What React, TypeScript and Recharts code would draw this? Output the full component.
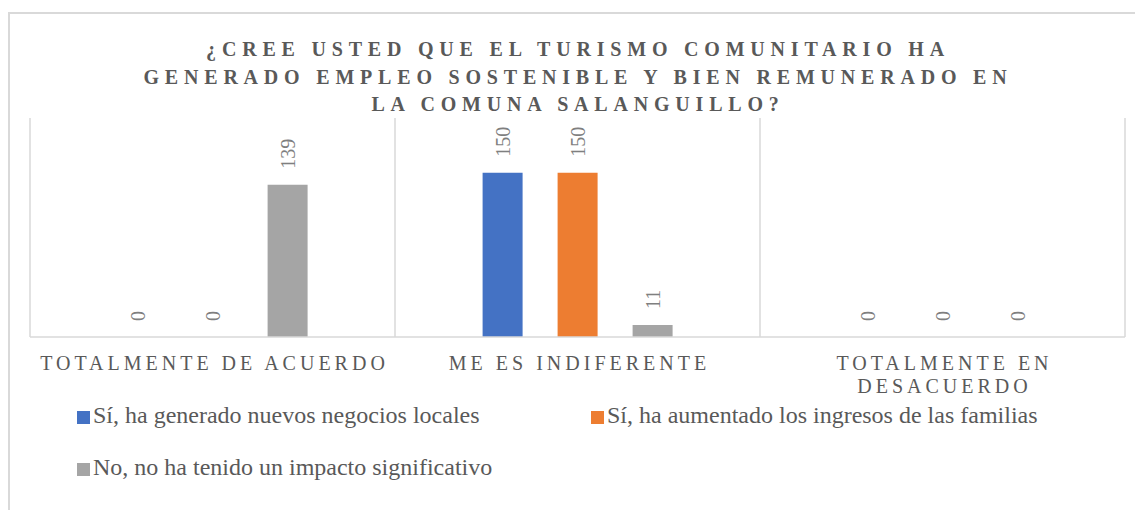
import React from 'react';
import { BarChart, Bar, XAxis, YAxis, CartesianGrid, LabelList } from 'recharts';

const categories = ['TOTALMENTE DE ACUERDO', 'ME ES INDIFERENTE', 'TOTALMENTE EN DESACUERDO'];
const negociosLocales = [0, 150, 0];
const ingresosFamilias = [0, 150, 0];
const sinImpacto = [139, 11, 0];

const titleLines = [
    '¿CREE USTED QUE EL TURISMO COMUNITARIO HA',
    'GENERADO EMPLEO SOSTENIBLE Y BIEN REMUNERADO EN',
    'LA COMUNA SALANGUILLO?',
];

const series = [
    { key: 'negocios', name: 'Sí, ha generado nuevos negocios locales', color: '#4472C4' },
    { key: 'ingresos', name: 'Sí, ha aumentado los ingresos de las familias', color: '#ED7D31' },
    { key: 'sinImpacto', name: 'No, no ha tenido un impacto significativo', color: '#A5A5A5' },
];

const data = categories.map((c, i) => ({
    category: c,
    negocios: negociosLocales[i],
    ingresos: ingresosFamilias[i],
    sinImpacto: sinImpacto[i],
}));

const FONT = '"Liberation Serif", "Times New Roman", serif';
const TICK_SIZE = 20;
const TICK_SPACING = 4;

let ctx: CanvasRenderingContext2D | null = null;
const measure = (s: string) => {
    if (!ctx) ctx = document.createElement('canvas').getContext('2d');
    if (!ctx) return s.length * 12;
    ctx.font = `${TICK_SIZE}px "Liberation Serif"`;
    return ctx.measureText(s).width + s.length * TICK_SPACING;
};

// greedy word wrap, like Excel does for the category labels
const wrap = (label: string, maxWidth: number) => {
    const lines: string[] = [];
    let cur = '';
    label.split(' ').forEach((w) => {
        const next = cur ? cur + ' ' + w : w;
        if (cur && measure(next) > maxWidth) {
            lines.push(cur);
            cur = w;
        } else {
            cur = next;
        }
    });
    if (cur) lines.push(cur);
    return lines;
};

const RotatedLabel = (props: any) => {
    const { x, y, width, value } = props;
    const cx = Number(x) + Number(width) / 2;
    const cy = Number(y) - 16;
    return (
        <text
            x={cx}
            y={cy}
            transform={`rotate(-90 ${cx} ${cy})`}
            textAnchor="start"
            dominantBaseline="central"
            fontFamily={FONT}
            fontSize={20}
            fill="#7F7F7F"
        >
            {value}
        </text>
    );
};

const CategoryTick = (props: any) => {
    const { x, y, payload } = props;
    const lines = wrap(String(payload.value), 355);
    return (
        <text
            x={x + TICK_SPACING / 2}
            y={y + 33}
            textAnchor="middle"
            fontFamily={FONT}
            fontSize={TICK_SIZE}
            fill="#595959"
            letterSpacing={TICK_SPACING}
        >
            {lines.map((l, i) => (
                <tspan key={i} x={x + TICK_SPACING / 2} dy={i === 0 ? 0 : 23}>
                    {l}
                </tspan>
            ))}
        </text>
    );
};

export default function App() {
    return (
        <div style={{ position: 'absolute', left: 0, top: 0, width: 1135, height: 510, overflow: 'hidden', background: '#fff', fontFamily: FONT }}>
            <div style={{ position: 'absolute', left: 8, top: 12, width: 1200, height: 600, borderLeft: '2px solid #D9D9D9', borderTop: '2px solid #D9D9D9' }} />

            <div
                style={{
                    position: 'absolute',
                    left: 0,
                    top: 36,
                    width: 1150,
                    paddingLeft: 6,
                    boxSizing: 'border-box',
                    textAlign: 'center',
                    fontSize: 20,
                    fontWeight: 'bold',
                    letterSpacing: '5.8px',
                    lineHeight: '27.5px',
                    color: '#595959',
                }}
            >
                {titleLines.map((l) => (
                    <div key={l}>{l}</div>
                ))}
            </div>

            <div style={{ position: 'absolute', left: 0, top: 0 }}>
                <BarChart
                    width={1135}
                    height={510}
                    data={data}
                    margin={{ top: 118, right: 10, left: 30, bottom: 143 }}
                    barCategoryGap="24%"
                    barGap={35}
                >
                    <CartesianGrid
                        horizontal={false}
                        stroke="#D9D9D9"
                        strokeWidth={1.5}
                        verticalCoordinatesGenerator={({ offset }: any) =>
                            categories.concat(['']).map((_, i) => offset.left + (i * offset.width) / categories.length)
                        }
                    />
                    <XAxis
                        dataKey="category"
                        height={30}
                        axisLine={{ stroke: '#D9D9D9', strokeWidth: 1.5 }}
                        tickLine={false}
                        tickSize={0}
                        tickMargin={0}
                        interval={0}
                        tick={<CategoryTick />}
                    />
                    <YAxis hide domain={[0, 200]} />
                    {series.map((s) => (
                        <Bar key={s.key} dataKey={s.key} name={s.name} fill={s.color} minPointSize={0.01} isAnimationActive={false}>
                            <LabelList dataKey={s.key} content={(p: any) => <RotatedLabel {...p} />} />
                        </Bar>
                    ))}
                </BarChart>
            </div>

            <div style={{ position: 'absolute', left: 77, top: 401, width: 1040, display: 'flex', flexWrap: 'wrap' }}>
                {series.map((s) => (
                    <div key={s.key} style={{ width: 514, height: 52, display: 'flex', alignItems: 'flex-start' }}>
                        <span style={{ display: 'inline-block', width: 13, height: 13, background: s.color, marginTop: 10, marginRight: 3 }} />
                        <span style={{ fontSize: 24, lineHeight: '29px', color: '#595959' }}>{s.name}</span>
                    </div>
                ))}
            </div>
        </div>
    );
}
